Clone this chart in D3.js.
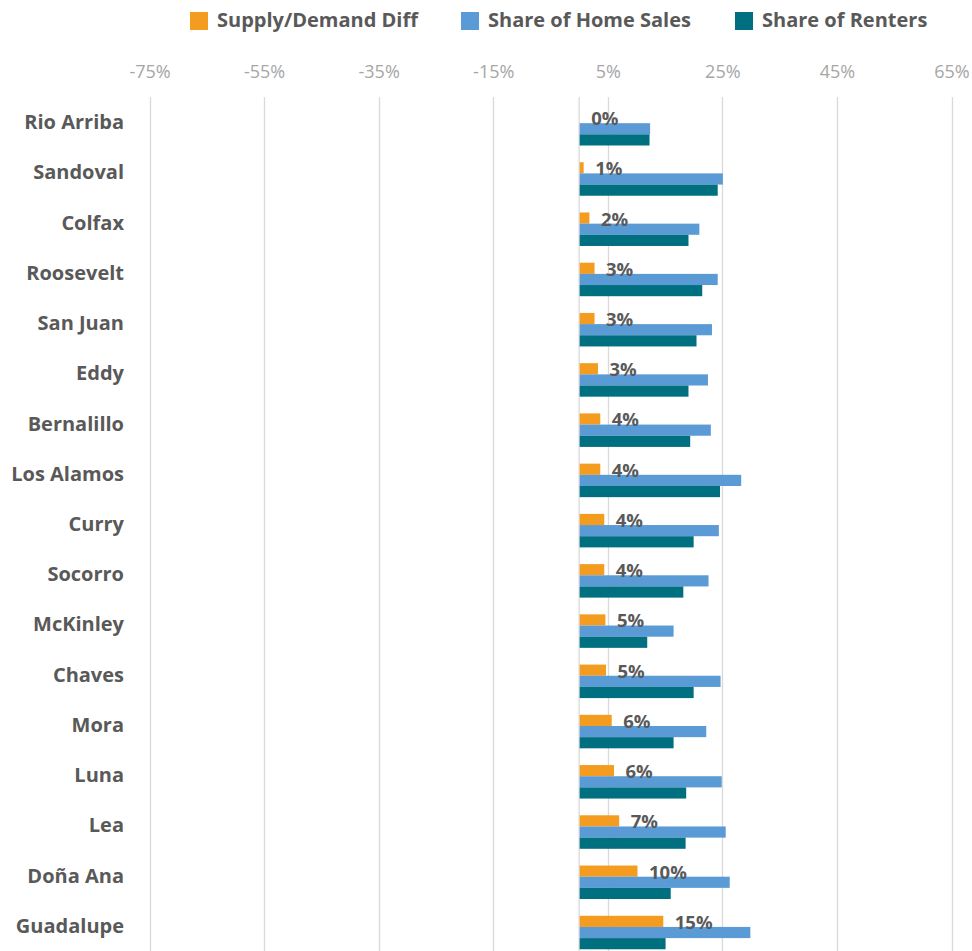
<!DOCTYPE html>
<html>
<head>
<meta charset="utf-8">
<script src="https://cdn.jsdelivr.net/npm/d3@7"></script>
<style>
  html, body { margin: 0; padding: 0; background: #ffffff; }
  svg { display: block; font-family: "Open Sans", "Noto Sans", sans-serif; }
</style>
</head>
<body>
<svg id="chart" width="972" height="951"></svg>
<script>
// Counties, top to bottom
const categories = [
  "Rio Arriba", "Sandoval", "Colfax", "Roosevelt", "San Juan", "Eddy",
  "Bernalillo", "Los Alamos", "Curry", "Socorro", "McKinley", "Chaves",
  "Mora", "Luna", "Lea", "Doña Ana", "Guadalupe"
];

const seriesNames = ["Supply/Demand Diff", "Share of Home Sales", "Share of Renters"];

// Values as fractions
const supplyDemandDiff = [0.000, 0.007, 0.017, 0.026, 0.026, 0.032, 0.036, 0.036, 0.043, 0.043, 0.045, 0.046, 0.056, 0.060, 0.069, 0.101, 0.146];
const shareHomeSales   = [0.123, 0.250, 0.209, 0.241, 0.231, 0.224, 0.229, 0.282, 0.243, 0.225, 0.164, 0.246, 0.221, 0.248, 0.255, 0.262, 0.298];
const shareRenters     = [0.122, 0.241, 0.190, 0.214, 0.204, 0.190, 0.193, 0.245, 0.199, 0.181, 0.118, 0.199, 0.164, 0.186, 0.185, 0.159, 0.150];

const tickValues = [-0.75, -0.55, -0.35, -0.15, 0.05, 0.25, 0.45, 0.65];

const colors = ["#F39C1F", "#5B9BD5", "#006F80"];

const seriesValues = [supplyDemandDiff, shareHomeSales, shareRenters];
const rows = categories.map((c, i) => ({
  name: c,
  values: seriesValues.map((s, k) => ({ key: seriesNames[k], value: s[i], k }))
}));

const svg = d3.select("#chart");
const textColor = "#595959";

const x = d3.scaleLinear().domain([-0.75, 0.65]).range([149.5, 951.5]);
const y = d3.scaleBand().domain(categories).range([97, 951]).paddingInner(0).paddingOuter(0);
const ySub = d3.scaleBand().domain(seriesNames).range([15, 48.5]);

// Percent format with a plain hyphen for negatives
const pct = v => d3.format(".0%")(v).replace("\u2212", "-");

// Vertical gridlines
svg.append("g")
  .selectAll("line")
  .data(tickValues)
  .join("line")
  .attr("x1", d => Math.round(x(d)) + 0.5)
  .attr("x2", d => Math.round(x(d)) + 0.5)
  .attr("y1", 97)
  .attr("y2", 951)
  .attr("stroke", "#d9d9d9")
  .attr("stroke-width", 1.3);

// Zero baseline
svg.append("line")
  .attr("x1", x(0)).attr("x2", x(0))
  .attr("y1", 97).attr("y2", 951)
  .attr("stroke", "#d9d9d9")
  .attr("stroke-width", 1.3);

// Top axis tick labels
const axis = d3.axisTop(x).tickValues(tickValues).tickSize(0).tickPadding(0).tickFormat(pct);
const axisG = svg.append("g").attr("transform", "translate(0,78)").call(axis);
axisG.select(".domain").remove();
axisG.selectAll("text")
  .attr("fill", "#a6a6a6")
  .style("font-size", "18px")
  .style("font-family", "'Open Sans', sans-serif");

// Category labels
svg.append("g")
  .selectAll("text")
  .data(categories)
  .join("text")
  .attr("x", 124)
  .attr("y", d => y(d) + y.bandwidth() / 2)
  .attr("dy", "0.35em")
  .attr("text-anchor", "end")
  .attr("fill", textColor)
  .style("font-size", "20px")
  .style("font-weight", "700")
  .text(d => d);

// Bars
const groups = svg.append("g")
  .selectAll("g")
  .data(rows)
  .join("g")
  .attr("transform", d => `translate(0,${y(d.name)})`);

groups.selectAll("rect")
  .data(d => d.values)
  .join("rect")
  .attr("x", d => x(Math.min(0, d.value)) + 0.5)
  .attr("y", d => ySub(d.key))
  .attr("width", d => Math.abs(x(d.value) - x(0)))
  .attr("height", ySub.bandwidth())
  .attr("fill", d => colors[d.k]);

// Value labels on the Supply/Demand Diff bars
groups.append("text")
  .attr("x", d => x(d.values[0].value) + 12)
  .attr("y", d => ySub(seriesNames[0]) + ySub.bandwidth() / 2 + 1)
  .attr("dy", "0.35em")
  .attr("fill", textColor)
  .style("font-size", "18.5px")
  .style("font-weight", "700")
  .text(d => pct(d.values[0].value));

// Legend
const legendItems = [
  { name: seriesNames[0], x: 190 },
  { name: seriesNames[1], x: 461 },
  { name: seriesNames[2], x: 735 }
];
const legend = svg.append("g")
  .selectAll("g")
  .data(legendItems)
  .join("g")
  .attr("transform", d => `translate(${d.x},0)`);
legend.append("rect")
  .attr("x", 0).attr("y", 12)
  .attr("width", 18).attr("height", 18)
  .attr("fill", (d, i) => colors[i]);
legend.append("text")
  .attr("x", 27).attr("y", 20)
  .attr("dy", "0.35em")
  .attr("fill", textColor)
  .style("font-size", "20px")
  .style("font-weight", "700")
  .text(d => d.name);
</script>
</body>
</html>
